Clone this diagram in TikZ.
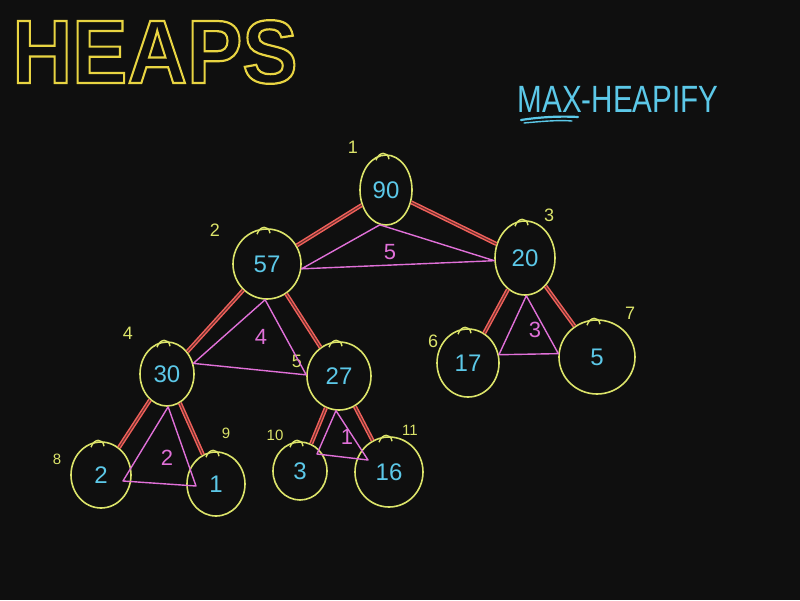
\documentclass[tikz,border=0pt]{standalone}
\usepackage{fontspec}
\setmainfont{Liberation Sans}
\usetikzlibrary{shapes.geometric,calc}
\definecolor{bg}{HTML}{0F0F0F}
\definecolor{circ}{HTML}{DCE46A}
\definecolor{ttl}{HTML}{E8D442}
\definecolor{num}{HTML}{5CC8E8}
\definecolor{edge}{HTML}{F0605A}
\definecolor{tri}{HTML}{E070D8}
\newcommand{\outlinetext}[1]{\special{pdf:literal direct 1 Tr 2.2 w 0.91 0.83 0.26 RG}#1\special{pdf:literal direct 0 Tr}}
\begin{document}
\begin{tikzpicture}[x=1pt,y=-1pt,
  heapnode/.style={ellipse, draw=circ, line width=1.6pt, inner sep=0pt, text=num,
     font=\fontsize{24}{24}\selectfont},
  idx/.style={text=circ, font=\fontsize{18}{18}\selectfont, inner sep=0pt},
  trinum/.style={text=tri, font=\fontsize{22}{22}\selectfont, inner sep=0pt},
  rededge/.style={draw=edge, line width=1.5pt, double=edge!40!bg, double distance=1.1pt},
  tripath/.style={draw=tri, line width=1.4pt, line join=round},
  hook/.style={draw=circ, line width=1.4pt},
  titlefont/.style={font=\fontsize{90}{90}\selectfont\bfseries, inner sep=0pt}
]
\fill[bg] (0,0) rectangle (800,600);
\useasboundingbox (0,0) rectangle (800,600);

% title HEAPS (outlined)
\node[titlefont, text=ttl] (title) at (155,52) {\scalebox{0.92}[1]{\outlinetext{HEAPS}}};

% MAX-HEAPIFY
\node[text=num, font=\fontsize{38}{38}\selectfont, inner sep=0pt] (mh) at (618,99) {\scalebox{0.78}[1]{MAX-HEAPIFY}};
\draw[num, line width=2.2pt, line cap=round] (521,120) .. controls (540,117) and (560,116) .. (578,117);
\draw[num, line width=1.4pt, line cap=round] (524,123) .. controls (545,121) and (560,120) .. (572,121);

% nodes
\node[heapnode, minimum width=52pt, minimum height=70pt] (n90) at (386,190) {90};
\node[heapnode, minimum width=68pt, minimum height=70pt] (n57) at (267,264) {57};
\node[heapnode, minimum width=60pt, minimum height=74pt] (n20) at (525,258) {20};
\node[heapnode, minimum width=54pt, minimum height=64pt] (n30) at (167,374) {30};
\node[heapnode, minimum width=64pt, minimum height=68pt] (n27) at (339,376) {27};
\node[heapnode, minimum width=62pt, minimum height=68pt] (n17) at (468,363) {17};
\node[heapnode, minimum width=76pt, minimum height=74pt] (n5) at (597,357) {5};
\node[heapnode, minimum width=60pt, minimum height=66pt] (n2) at (101,475) {2};
\node[heapnode, minimum width=58pt, minimum height=64pt] (n1) at (216,484) {1};
\node[heapnode, minimum width=54pt, minimum height=58pt] (n3) at (300,471) {3};
\node[heapnode, minimum width=68pt, minimum height=70pt] (n16) at (389,472) {16};

% hooks at circle tops
\foreach \n in {n90,n57,n20,n30,n27,n17,n5,n2,n1,n3,n16}{
  \draw[hook] ($(\n.north)+(-10,6)$) .. controls ($(\n.north)+(-7,-3)$) and ($(\n.north)+(2,-3)$) .. ($(\n.north)+(3,5)$);
}

% index labels
\node[idx] (i1) at (353,147) {1};
\node[idx] (i2) at (215,230) {2};
\node[idx] (i3) at (549,215) {3};
\node[idx] (i4) at (128,333) {4};
\node[idx] (i5) at (297,361) {5};
\node[idx] (i6) at (433,341) {6};
\node[idx] (i7) at (630,313) {7};
\node[idx, font=\fontsize{15}{15}\selectfont] (i8) at (57,459) {8};
\node[idx, font=\fontsize{15}{15}\selectfont] (i9) at (226,433) {9};
\node[idx, font=\fontsize{15}{15}\selectfont] (i10) at (275,435) {10};
\node[idx, font=\fontsize{15}{15}\selectfont] (i11) at (410,430) {11};

% red parent-child edges
\draw[rededge] (n90) -- (n57);
\draw[rededge] (n90) -- (n20);
\draw[rededge] (n57) -- (n30);
\draw[rededge] (n57) -- (n27);
\draw[rededge] (n20) -- (n17);
\draw[rededge] (n20) -- (n5);
\draw[rededge] (n30) -- (n2);
\draw[rededge] (n30) -- (n1);
\draw[rededge] (n27) -- (n3);
\draw[rededge] (n27) -- (n16);

% pink triangles
\draw[tripath] (n57.-8) -- (n90.-100) -- (n20.185) -- cycle;
\draw[tripath] (n57.-93) -- (n30.22) -- (n27.178) -- cycle;
\draw[tripath] (n20.-88) -- (n17.15) -- (n5.175) -- cycle;
\draw[tripath] (n30.-88) -- ($(n2)+(22,6)$) -- ($(n1)+(-20,2)$) -- cycle;
\draw[tripath] (n27.-95) -- ($(n3)+(17,-17)$) -- ($(n16)+(-21,-12)$) -- cycle;

% triangle numbers
\node[trinum] (t5) at (390,252) {5};
\node[trinum] (t4) at (261,337) {4};
\node[trinum] (t3) at (535,330) {3};
\node[trinum] (t2) at (167,458) {2};
\node[trinum] (t1) at (347,437) {1};
\end{tikzpicture}
\end{document}
